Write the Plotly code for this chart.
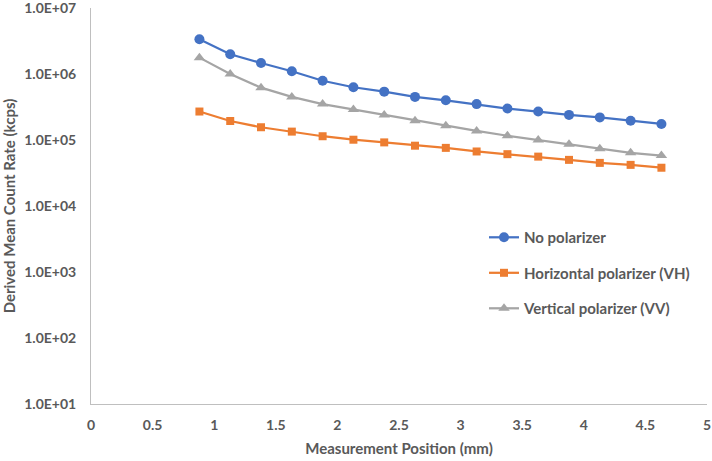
import plotly.graph_objects as go

# --- Data ---
position_mm = [0.88, 1.13, 1.38, 1.63, 1.88, 2.13, 2.38, 2.63,
               2.88, 3.13, 3.38, 3.63, 3.88, 4.13, 4.38, 4.63]

no_polarizer = [3.36e6, 1.99e6, 1.47e6, 1.10e6, 7.9e5, 6.3e5, 5.4e5, 4.5e5,
                4.0e5, 3.5e5, 3.0e5, 2.7e5, 2.4e5, 2.2e5, 1.96e5, 1.75e5]
horizontal_vh = [2.7e5, 1.94e5, 1.56e5, 1.34e5, 1.14e5, 1.01e5, 9.2e4, 8.2e4,
                 7.6e4, 6.7e4, 6.1e4, 5.6e4, 5.0e4, 4.5e4, 4.2e4, 3.8e4]
vertical_vv = [1.77e6, 1.0e6, 6.2e5, 4.5e5, 3.5e5, 2.9e5, 2.4e5, 1.96e5,
               1.65e5, 1.37e5, 1.16e5, 1.0e5, 8.6e4, 7.4e4, 6.4e4, 5.8e4]

y_ticks = [1e1, 1e2, 1e3, 1e4, 1e5, 1e6, 1e7]
y_ticklabels = ["1.0E+01", "1.0E+02", "1.0E+03", "1.0E+04", "1.0E+05", "1.0E+06", "1.0E+07"]
x_ticks = [0, 0.5, 1, 1.5, 2, 2.5, 3, 3.5, 4, 4.5, 5]
x_ticklabels = ["0", "0.5", "1", "1.5", "2", "2.5", "3", "3.5", "4", "4.5", "5"]

BLUE, ORANGE, GRAY = "#4472C4", "#ED7D31", "#A5A5A5"
TEXT = "#595959"
FONT = "Lato"

series = [
    ("No polarizer", no_polarizer, BLUE, "circle", 10),
    ("Horizontal polarizer (VH)", horizontal_vh, ORANGE, "square", 8),
    ("Vertical polarizer (VV)", vertical_vv, GRAY, "triangle-up", 10),
]

fig = go.Figure()
for i, (name, vals, color, symbol, size) in enumerate(series):
    fig.add_trace(go.Scatter(
        x=position_mm, y=vals, name=name, mode="lines+markers",
        line=dict(color=color, width=2.25),
        marker=dict(color=color, symbol=symbol, size=size),
        legendgroup=f"g{i}",
    ))

fig.update_layout(
    width=712, height=461,
    margin=dict(l=91, r=5, t=8, b=57),
    plot_bgcolor="white", paper_bgcolor="white",
    font=dict(family=FONT, size=14, color=TEXT),
    legend=dict(
        x=0.638, y=0.462, xanchor="left", yanchor="top",
        traceorder="grouped", tracegroupgap=13, itemwidth=30,
        font=dict(family=FONT, size=15, color=TEXT, weight="bold"),
        bgcolor="rgba(0,0,0,0)",
    ),
    xaxis=dict(
        range=[0, 5], tickvals=x_ticks, ticktext=x_ticklabels,
        showgrid=False, zeroline=False, showline=True, automargin=False,
        linecolor="#BFBFBF", linewidth=1, ticks="", ticklabelstandoff=8,
        ticklabeloverflow="allow",
        tickfont=dict(family=FONT, size=14, color=TEXT, weight="bold"),
        title=dict(text="<b>Measurement Position (mm)</b>", standoff=11,
                   font=dict(family=FONT, size=15, color=TEXT)),
    ),
    yaxis=dict(
        type="log", range=[1, 7], tickvals=y_ticks, ticktext=y_ticklabels,
        showgrid=False, zeroline=False, showline=True, automargin=False,
        linecolor="#BFBFBF", linewidth=1,
        ticks="outside", ticklen=11, tickcolor="rgba(0,0,0,0)",
        ticklabeloverflow="allow",
        tickfont=dict(family=FONT, size=14, color=TEXT, weight="bold"),
        title=dict(text="<b>Derived Mean Count Rate (kcps)</b>", standoff=6,
                   font=dict(family=FONT, size=15, color=TEXT)),
    ),
)

# page body has a default 8px margin; drop it so the figure sits at 0,0
fig.write_html("out.html", config={"displayModeBar": False},
               post_script="document.body.style.margin='0';")
